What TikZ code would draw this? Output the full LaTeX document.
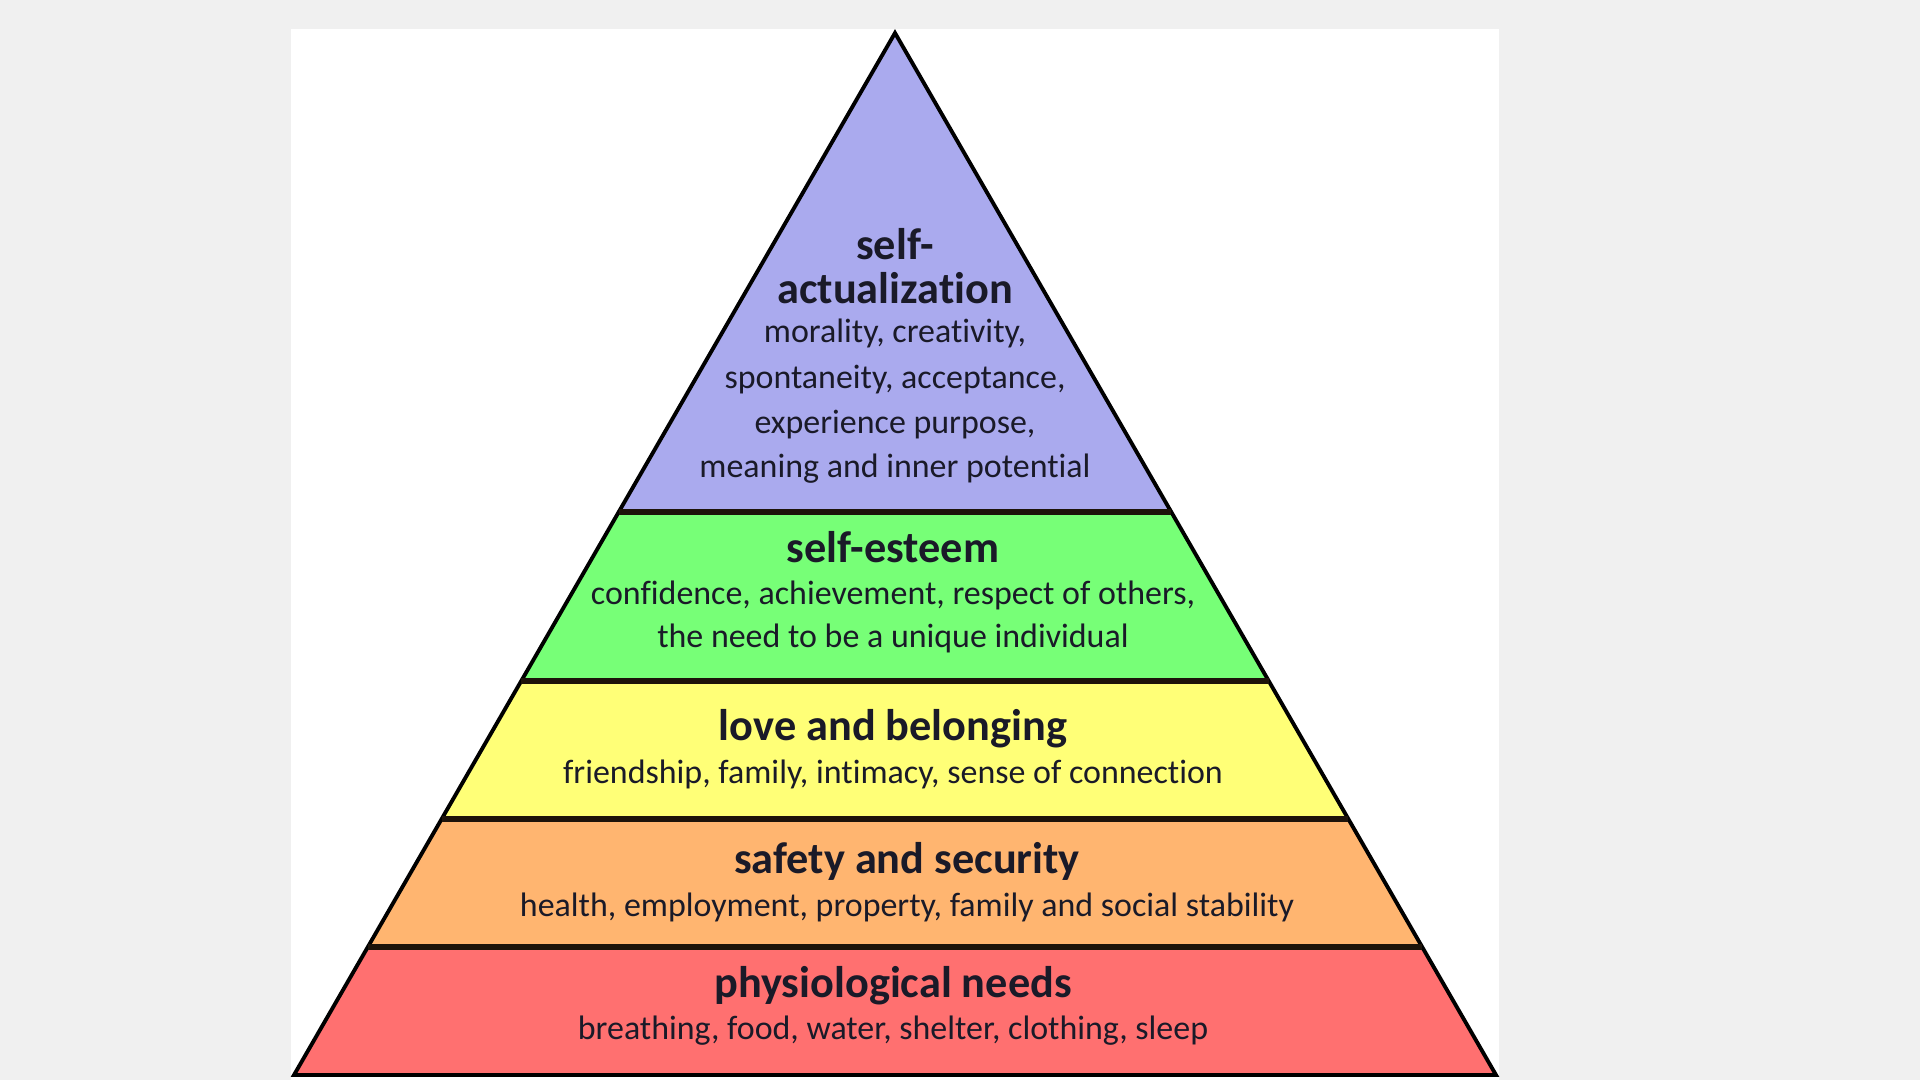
\documentclass[tikz,border=0pt]{standalone}
\usepackage{fontspec}
\setmainfont{Carlito}[Ligatures=NoCommon]
\usetikzlibrary{calc}

\definecolor{bggray}{HTML}{F0F0F0}
\definecolor{actcol}{HTML}{AAAAEE}
\definecolor{estcol}{HTML}{77FF77}
\definecolor{lovcol}{HTML}{FFFF77}
\definecolor{safcol}{HTML}{FFB570}
\definecolor{phycol}{HTML}{FF7070}
\definecolor{inkcol}{HTML}{1A1A28}

\tikzset{
  title/.style={inner sep=0pt, text=inkcol, font=\fontsize{12.6}{14}\selectfont\bfseries},
  sub/.style={inner sep=0pt, text=inkcol, font=\fontsize{9.65}{12}\selectfont},
  band/.style={line width=1.1pt, draw=black, line join=miter},
  divider/.style={line width=1.9pt, draw=black!85!brown}
}

\begin{document}
\begin{tikzpicture}[x=0.01cm,y=-0.01cm]
\useasboundingbox[fill=bggray] (0,0) rectangle (1920,1080);
\fill[white] (291,29) rectangle (1499,1080);

\coordinate (apex) at (895,33);
\coordinate (bl) at (294,1075);
\coordinate (br) at (1496,1075);

% band edges
\coordinate (l1) at ($(apex)!0.4597!(bl)$);
\coordinate (r1) at ($(apex)!0.4597!(br)$);
\coordinate (l2) at ($(apex)!0.6219!(bl)$);
\coordinate (r2) at ($(apex)!0.6219!(br)$);
\coordinate (l3) at ($(apex)!0.7543!(bl)$);
\coordinate (r3) at ($(apex)!0.7543!(br)$);
\coordinate (l4) at ($(apex)!0.8772!(bl)$);
\coordinate (r4) at ($(apex)!0.8772!(br)$);

\path[fill=actcol] (apex) -- (r1) -- (l1) -- cycle;
\path[fill=estcol] (l1) -- (r1) -- (r2) -- (l2) -- cycle;
\path[fill=lovcol] (l2) -- (r2) -- (r3) -- (l3) -- cycle;
\path[fill=safcol] (l3) -- (r3) -- (r4) -- (l4) -- cycle;
\path[fill=phycol] (l4) -- (r4) -- (br) -- (bl) -- cycle;

\path[band] (apex) -- (br) -- (bl) -- cycle;
\path[divider] (l1) -- (r1);
\path[divider] (l2) -- (r2);
\path[divider] (l3) -- (r3);
\path[divider] (l4) -- (r4);

\node[title] (act1) at (895,244) {self-};
\node[title] (act2) at (895,288) {actualization};
\node[sub] (act3) at (895,333) {morality, creativity,};
\node[sub] (act4) at (895,380) {spontaneity, acceptance,};
\node[sub] (act5) at (895,425) {experience purpose,};
\node[sub] (act6) at (895,469) {meaning and inner potential};

\node[title] (est1) at (893,547) {self-esteem};
\node[sub] (est2) at (893,595) {confidence, achievement, respect of others,};
\node[sub] (est3) at (893,638) {the need to be a unique individual};

\node[title] (lov1) at (893,729) {love and belonging};
\node[sub] (lov2) at (893,774) {friendship, family, intimacy, sense of connection};

\node[title] (saf1) at (907,861) {safety and security};
\node[sub] (saf2) at (907,907) {health, employment, property, family and social stability};

\node[title] (phy1) at (893,986) {physiological needs};
\node[sub] (phy2) at (893,1031) {breathing, food, water, shelter, clothing, sleep};
\end{tikzpicture}
\end{document}
